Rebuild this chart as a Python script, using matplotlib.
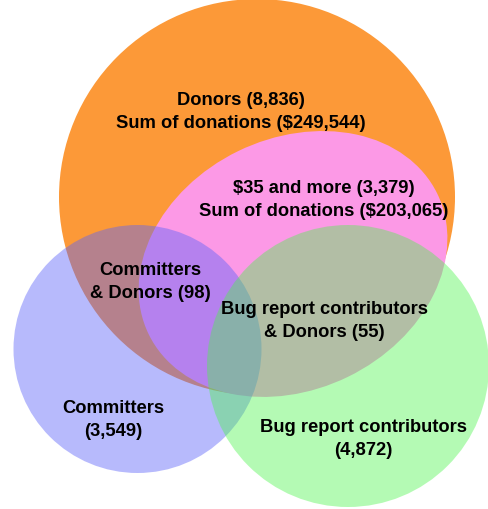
import matplotlib.pyplot as plt
from matplotlib.patches import Circle, Ellipse

# data
set_names = ['Donors', '$35 and more', 'Committers', 'Bug report contributors']
set_counts = [8836, 3379, 3549, 4872]
donation_sums = [249544, 203065]
overlap_names = ['Committers\n& Donors', 'Bug report contributors\n& Donors']
overlap_counts = [98, 55]

# layout (pixel coords, y down)
orange = dict(xy=(257, 198), r=198, color=(0.99, 0.60, 0.22), alpha=1.0)
pink = dict(xy=(293, 265), w=321, h=251, angle=-26, color=(0.99, 0.60, 0.90), alpha=1.0)
blue = dict(xy=(137.5, 350), r=124, color=(0.36, 0.39, 0.98), alpha=0.44)
green = dict(xy=(348, 367), r=141, color=(0.29, 0.96, 0.29), alpha=0.41)

fig = plt.figure(figsize=(4.88, 5.10), dpi=100)
ax = fig.add_axes([0, 0, 1, 1])
ax.set_xlim(0, 488)
ax.set_ylim(510, 0)
ax.set_aspect('equal')
ax.axis('off')

ax.add_patch(Circle(orange['xy'], orange['r'], color=orange['color'], alpha=orange['alpha'], lw=0))
ax.add_patch(Ellipse(pink['xy'], pink['w'], pink['h'], angle=pink['angle'],
                     color=pink['color'], alpha=pink['alpha'], lw=0))
ax.add_patch(Circle(blue['xy'], blue['r'], color=blue['color'], alpha=blue['alpha'], lw=0))
ax.add_patch(Circle(green['xy'], green['r'], color=green['color'], alpha=green['alpha'], lw=0))

font = dict(family=['Liberation Sans', 'DejaVu Sans'], fontweight='bold', fontsize=13.2,
            ha='center', va='center', linespacing=1.5)

ax.text(241, 112, f"{set_names[0]} ({set_counts[0]:,})\nSum of donations (${donation_sums[0]:,})", **font)
ax.text(324, 200, f"{set_names[1]} ({set_counts[1]:,})\nSum of donations (${donation_sums[1]:,})", **font)
ax.text(150, 282, f"{overlap_names[0]} ({overlap_counts[0]})", **font)
ax.text(324.5, 321, f"{overlap_names[1]} ({overlap_counts[1]})", **font)
ax.text(113, 420, f"{set_names[2]}\n({set_counts[2]:,})", **font)
ax.text(363, 439, f"{set_names[3]}\n({set_counts[3]:,})", **font)

fig.savefig('out.png', dpi=100)
